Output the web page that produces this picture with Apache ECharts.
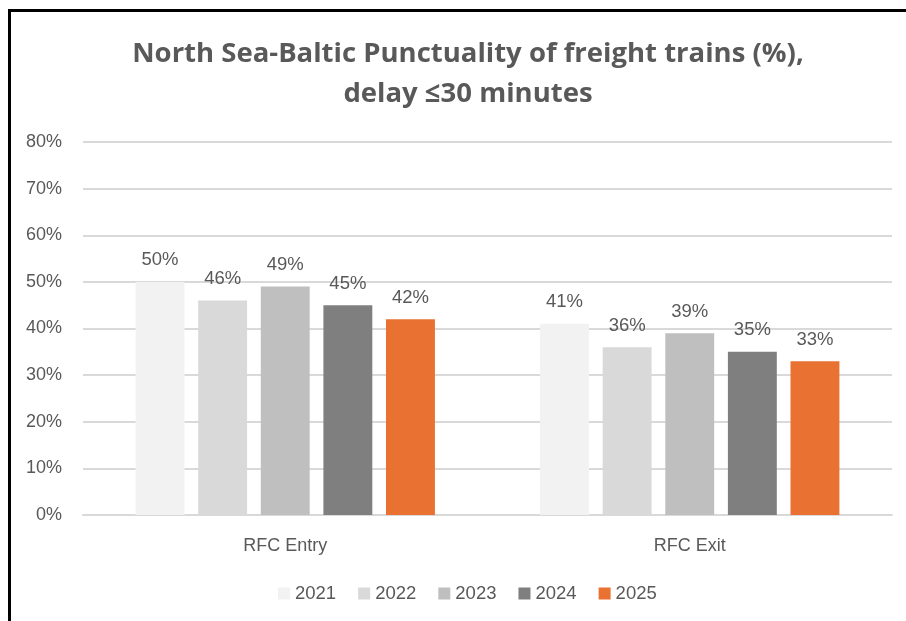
<!DOCTYPE html>
<html>
<head>
<meta charset="utf-8">
<script src="https://cdn.jsdelivr.net/npm/echarts@6/dist/echarts.min.js"></script>
<style>
  html, body { margin: 0; padding: 0; background: #fff; }
  #frame { position: absolute; left: 8px; top: 9px; width: 920px; height: 640px; border: 3px solid #000; box-sizing: border-box; }
  #myChart { position: absolute; left: 0; top: 0; width: 906px; height: 621px; }
</style>
</head>
<body>
<div id="frame"></div>
<div id="myChart"></div>
<script>
// 数据
const categories = ['RFC Entry', 'RFC Exit']
const years = ['2021', '2022', '2023', '2024', '2025']
const values2021 = [50, 41]
const values2022 = [46, 36]
const values2023 = [49, 39]
const values2024 = [45, 35]
const values2025 = [42, 33]
const yTicks = [0, 10, 20, 30, 40, 50, 60, 70, 80]

const seriesValues = [values2021, values2022, values2023, values2024, values2025]
const colors = ['#F2F2F2', '#D9D9D9', '#BFBFBF', '#7F7F7F', '#E97132']
const fontFamily = '"Liberation Sans", Arial, sans-serif'

const seriesData = []
for (let i = 0; i < years.length; i++) {
  seriesData.push({
    name: years[i],
    type: 'bar',
    data: seriesValues[i],
    barGap: '28%',
    barCategoryGap: '26%',
    itemStyle: { color: colors[i] },
    label: {
      show: true,
      position: 'top',
      distance: 12,
      formatter: '{c}%',
      color: '#595959',
      fontSize: 18.5,
      fontFamily: fontFamily
    }
  })
}

let myChart = echarts.init(document.getElementById('myChart'))
myChart.setOption({
  animation: false,
  color: colors,
  title: {
    text: 'North Sea-Baltic Punctuality of freight trains (%),\ndelay \u226430 minutes',
    left: 463,
    top: 29,
    textAlign: 'center',
    textStyle: {
      color: '#595959',
      fontSize: 27.5,
      fontWeight: 'bold',
      fontFamily: '"Open Sans", sans-serif',
      lineHeight: 40
    }
  },
  legend: {
    data: years,
    left: 273,
    top: 579,
    itemWidth: 12,
    itemHeight: 12,
    itemGap: 22,
    icon: 'rect',
    textStyle: { color: '#595959', fontSize: 18.5, fontFamily: fontFamily }
  },
  grid: {
    left: 83,
    right: 14,
    top: 142,
    bottom: 106
  },
  xAxis: [{
    type: 'category',
    data: categories,
    axisTick: { show: false },
    axisLine: { lineStyle: { color: '#D9D9D9', width: 2 } },
    axisLabel: { color: '#595959', fontSize: 18, margin: 22, fontFamily: fontFamily }
  }],
  yAxis: [{
    type: 'value',
    min: yTicks[0],
    max: yTicks[yTicks.length - 1],
    interval: 10,
    axisLine: { show: false },
    axisTick: { show: false },
    splitLine: { lineStyle: { color: '#D9D9D9', width: 2 } },
    axisLabel: { color: '#595959', fontSize: 18, margin: 21, formatter: '{value}%', fontFamily: fontFamily }
  }],
  series: seriesData
})
</script>
</body>
</html>
